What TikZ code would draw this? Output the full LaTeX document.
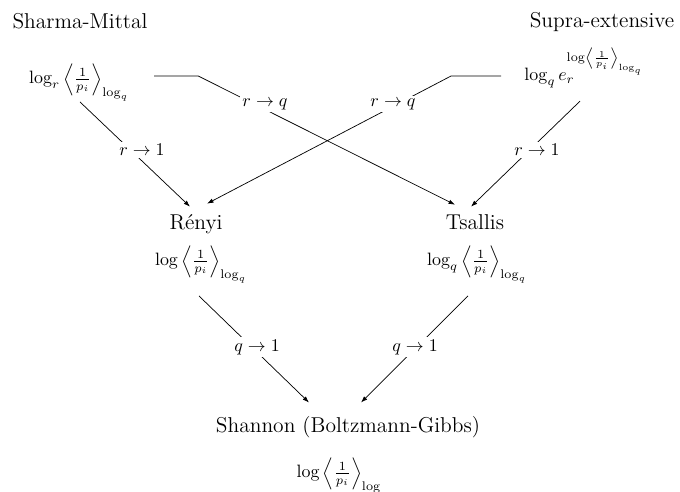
\documentclass[tikz,border=0pt]{standalone}
\usetikzlibrary{arrows.meta,calc}
\begin{document}
\begin{tikzpicture}[x=0.5587pt,y=-0.5587pt,
  txt/.style={anchor=base, inner sep=0pt},
  title/.style={txt, font=\large},
  lbl/.style={fill=white, inner sep=1.2pt},
  conn/.style={line width=0.4pt},
  arr/.style={conn,-{Latex[length=3.6pt,width=2.5pt]}}]
\useasboundingbox (0,0) rectangle (680,492);
% nodes
\node[title] (SM) at (80,29) {Sharma-Mittal};
\node[txt] (SMf) at (79,84) {$\log_r \left\langle \frac{1}{p_i} \right\rangle_{\log_q}$};
\node[title] (SE) at (602,28) {Supra-extensive};
\node[txt] (SEf) at (584,81) {$\log_q e_r^{\log\left\langle\frac{1}{p_i}\right\rangle_{\log_q}}$};
\node[title] (R) at (196,230) {Rényi};
\node[txt] (Rf) at (201,266) {$\log \left\langle \frac{1}{p_i} \right\rangle_{\log_q}$};
\node[title] (T) at (475,230) {Tsallis};
\node[txt] (Tf) at (477,266) {$\log_q \left\langle \frac{1}{p_i} \right\rangle_{\log_q}$};
\node[title] (S) at (348,433) {Shannon (Boltzmann-Gibbs)};
\node[txt] (Sf) at (339,478) {$\log \left\langle \frac{1}{p_i} \right\rangle_{\log}$};
% connectors
\draw[arr] ($(SMf.base east)+(25,-8)$) -- ++(44,0) -- ($(T.north)+(-20,-10)$);
\draw[arr] ($(SEf.base west)+(-23,-5)$) -- ++(-50,0) -- ($(R.north)+(11,-11)$);
\draw[arr] ($(SMf.south)+(1,0)$) -- ($(R.north)+(-6,-8)$);
\draw[arr] ($(SEf.south)+(-4,13)$) -- ($(T.north)+(-4,-8)$);
\draw[arr] ($(Rf.south)+(-2,12)$) -- ($(S.north)+(-39,-14)$);
\draw[arr] ($(Tf.south)+(-9,12)$) -- ($(S.north)+(13,-14)$);
% labels
\node[lbl] (rq1) at (265,104) {$r\to q$};
\node[lbl] (rq2) at (393,104) {$r\to q$};
\node[lbl] (r1a) at (142,150) {$r\to 1$};
\node[lbl] (r1b) at (537,150) {$r\to 1$};
\node[lbl] (q1a) at (257,347) {$q\to 1$};
\node[lbl] (q1b) at (415,347) {$q\to 1$};
\end{tikzpicture}
\end{document}
